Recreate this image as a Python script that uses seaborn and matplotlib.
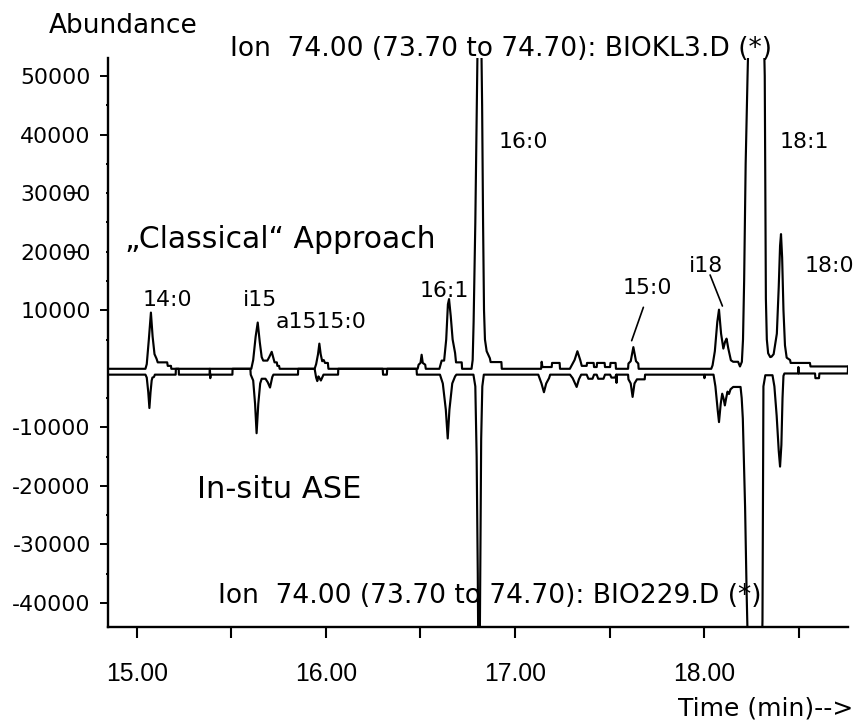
import matplotlib
matplotlib.use("Agg")
import matplotlib.pyplot as plt
import seaborn as sns
import pandas as pd

# ---------------- data ----------------
# upper trace: "Classical" approach, BIOKL3.D  (time [min], abundance)
classical_trace = [
    (14.847, 0), (15.045, 0), (15.052, 800), (15.063, 5000), (15.074, 9600), (15.083, 5500),
    (15.093, 2500), (15.104, 1700), (15.110, 1100), (15.160, 1100), (15.163, 500), (15.180, 500),
    (15.182, 0),
    (15.605, 0), (15.615, 1500), (15.628, 5500), (15.639, 7900), (15.650, 4500), (15.660, 2000),
    (15.668, 1400), (15.690, 1400), (15.700, 2000), (15.713, 2900), (15.722, 1800), (15.728, 1100),
    (15.740, 1100), (15.743, 500), (15.752, 500), (15.755, 0),
    (15.940, 0), (15.948, 800), (15.958, 2500), (15.965, 4300), (15.972, 2500), (15.980, 1300),
    (15.988, 1500), (15.995, 1000), (16.010, 1000), (16.013, 0),
    (16.485, 0), (16.490, 700), (16.500, 1000), (16.506, 2400), (16.512, 1000), (16.525, 700),
    (16.528, 0),
    (16.600, 0), (16.605, 600), (16.612, 1400), (16.625, 1400), (16.636, 5000), (16.645, 11000),
    (16.651, 11900), (16.660, 9000), (16.670, 5000), (16.683, 2700), (16.688, 1100), (16.718, 1100),
    (16.720, 0),
    (16.770, 0), (16.776, 1500), (16.781, 8000), (16.790, 25000), (16.798, 45000), (16.803, 58000),
    (16.821, 58000), (16.826, 45000), (16.831, 25000), (16.836, 10000), (16.841, 5000),
    (16.850, 3000), (16.860, 2300), (16.867, 1800), (16.871, 1150), (16.928, 1150), (16.930, 0),
    (17.138, 0), (17.141, 1200), (17.145, 300), (17.194, 300), (17.196, 1000), (17.236, 1000),
    (17.238, 0), (17.290, 0), (17.300, 600), (17.315, 1500), (17.330, 3000), (17.345, 1500),
    (17.353, 500), (17.379, 500), (17.381, 1000), (17.416, 1000), (17.418, 300), (17.432, 300),
    (17.434, 1000), (17.474, 1000), (17.476, 300), (17.503, 300), (17.505, 1000), (17.532, 1000),
    (17.534, 0),
    (17.598, 0), (17.600, 900), (17.612, 1300), (17.626, 3700), (17.640, 1300), (17.652, 900),
    (17.654, 0),
    (18.038, 0), (18.045, 600), (18.057, 3000), (18.070, 8000), (18.079, 10100), (18.090, 6000),
    (18.102, 3450), (18.111, 4600), (18.119, 5150), (18.128, 3500), (18.142, 1450), (18.154, 1200),
    (18.180, 1200), (18.190, 400), (18.200, 1200), (18.206, 5000), (18.212, 15000), (18.220, 35000),
    (18.230, 50000), (18.236, 58000), (18.316, 58000), (18.321, 50000), (18.324, 30000),
    (18.327, 12000), (18.332, 5000), (18.339, 2650), (18.350, 2000), (18.357, 2070), (18.368, 2500),
    (18.385, 6000), (18.395, 14000), (18.402, 21000), (18.407, 23000), (18.413, 19000),
    (18.420, 10000), (18.428, 4000), (18.437, 1900), (18.455, 1500), (18.458, 1000),
    (18.560, 1000), (18.563, 400), (18.762, 400),
]

# lower (mirrored) trace: "In-situ ASE", BIO229.D  (time [min], plotted abundance)
insitu_trace = [
    (14.847, -1000), (15.045, -1000), (15.052, -1500), (15.060, -4000), (15.066, -6700),
    (15.072, -4000), (15.078, -2000), (15.082, -1500), (15.090, -1400), (15.095, -1000),
    (15.205, -1000), (15.206, 0), (15.221, 0), (15.222, -1000),
    (15.384, -1000), (15.386, 0), (15.388, -1600), (15.390, -1000),
    (15.505, -1000), (15.506, 0), (15.600, 0), (15.602, -1000),
    (15.615, -2000), (15.625, -6000), (15.633, -11000), (15.642, -6000), (15.652, -2500),
    (15.660, -1700), (15.680, -1700), (15.692, -2300), (15.704, -3200), (15.712, -2000),
    (15.716, -1400), (15.722, -1000),
    (15.852, -1000), (15.853, 0), (15.940, 0), (15.948, -1500), (15.954, -2100), (15.960, -1300),
    (15.966, -1600), (15.973, -2000), (15.980, -1500), (15.987, -1000), (16.064, -1000),
    (16.065, 0), (16.300, 0), (16.302, -1000), (16.322, -1000), (16.324, 0), (16.479, 0),
    (16.481, -1000),
    (16.603, -1000), (16.618, -2500), (16.634, -7000), (16.644, -11900), (16.653, -7000),
    (16.668, -2500), (16.683, -1300), (16.690, -1000),
    (16.780, -1000), (16.790, -3000), (16.797, -15000), (16.803, -35000), (16.806, -50000),
    (16.813, -50000), (16.816, -35000), (16.821, -12000), (16.827, -3000), (16.835, -1000),
    (17.123, -1000), (17.140, -2500), (17.153, -4000), (17.165, -2500), (17.180, -1600),
    (17.186, -1000),
    (17.291, -1000), (17.305, -1600), (17.326, -3100), (17.338, -1800), (17.350, -1000),
    (17.379, -1000), (17.388, -1700), (17.410, -1700), (17.418, -1000), (17.432, -1000),
    (17.440, -1700), (17.468, -1700), (17.476, -1000), (17.503, -1000), (17.510, -1500),
    (17.530, -1500), (17.535, -1000), (17.537, -2400), (17.539, -1000),
    (17.598, -1000), (17.600, -1800), (17.612, -2500), (17.622, -4800), (17.632, -2500),
    (17.645, -1800), (17.686, -1800), (17.688, -1000),
    (18.000, -1000), (18.002, -1600), (18.004, -1000),
    (18.050, -1000), (18.060, -3000), (18.072, -7000), (18.079, -9100), (18.088, -6000),
    (18.096, -4250), (18.104, -5200), (18.110, -6250), (18.117, -5000), (18.124, -3900),
    (18.132, -4300), (18.140, -3500), (18.154, -3100), (18.193, -3100), (18.199, -5000),
    (18.205, -8500), (18.217, -23600), (18.225, -38000), (18.232, -48000), (18.306, -48000),
    (18.309, -43000), (18.314, -3000), (18.320, -1900), (18.324, -1100), (18.362, -1100),
    (18.372, -3000), (18.384, -8000), (18.395, -14000), (18.402, -16700), (18.409, -13000),
    (18.415, -5000), (18.420, -1200), (18.425, -800),
    (18.497, -800), (18.499, 300), (18.501, -800), (18.587, -800), (18.589, -1600),
    (18.608, -1600), (18.610, -800), (18.760, -800), (18.762, 400),
]

peak_names = ["14:0", "i15", "a1515:0", "16:1", "16:0", "15:0", "i18", "18:1", "18:0"]
peak_name_time = [15.032, 15.561, 15.735, 16.497, 16.915, 17.570, 17.921, 18.398, 18.534]
peak_name_abund = [10720, 10720, 6960, 12260, 37700, 12720, 16580, 37700, 16580]

# leader lines (label -> peak)
leader_from = [(18.032, 16020), (17.679, 10500)]
leader_to = [(18.097, 10720), (17.617, 4800)]

x_major = [15.0, 16.0, 17.0, 18.0]
x_major_labels = ["15.00", "16.00", "17.00", "18.00"]
x_minor = [15.5, 16.5, 17.5, 18.5]
y_major = [-40000, -30000, -20000, -10000, 10000, 20000, 30000, 40000, 50000]
y_major_labels = ["-40000", "-30000", "-20000", "-10000", "10000", "20000", "30000", "40000", "50000"]
y_minor = [-35000, -25000, -15000, -5000, 5000, 15000, 25000, 35000, 45000]

title_top = "Ion  74.00 (73.70 to 74.70): BIOKL3.D (*)"
title_bottom = "Ion  74.00 (73.70 to 74.70): BIO229.D (*)"

# ---------------- plotting ----------------
sns.set_theme(style="ticks")
plt.rcParams["font.family"] = ["DejaVu Sans"]
plt.rcParams["text.color"] = "black"
plt.rcParams["xtick.color"] = "black"
plt.rcParams["ytick.color"] = "black"
plt.rcParams["axes.edgecolor"] = "black"

fig = plt.figure(figsize=(8.56, 7.21), dpi=100)
ax = fig.add_axes([0.12617, 0.13037, 0.86484, 0.78918])

df_c = pd.DataFrame(classical_trace, columns=["time", "abundance"])
df_i = pd.DataFrame(insitu_trace, columns=["time", "abundance"])
sns.lineplot(data=df_c, x="time", y="abundance", estimator=None, sort=False,
             color="black", linewidth=1.55, ax=ax)
sns.lineplot(data=df_i, x="time", y="abundance", estimator=None, sort=False,
             color="black", linewidth=1.55, ax=ax)

ax.set_xlim(14.847, 18.763)
ax.set_ylim(-44090, 53070)
sns.despine(ax=ax)
ax.set_xlabel("")
ax.set_ylabel("")
for s in ["left", "bottom"]:
    ax.spines[s].set_linewidth(1.7)
    ax.spines[s].set_color("black")

ax.set_xticks(x_major)
ax.set_xticklabels(x_major_labels, fontfamily="Liberation Sans", fontsize=17.8)
ax.set_xticks(x_minor, minor=True)
ax.tick_params(axis="x", which="both", direction="out", length=7.7, width=1.5, pad=17.5)

ax.set_yticks(y_major)
ax.set_yticklabels(y_major_labels, fontsize=15.8)
ax.set_yticks(y_minor, minor=True)
ax.tick_params(axis="y", which="major", direction="out", length=6.0, width=1.4, pad=6.4)
ax.tick_params(axis="y", which="minor", direction="out", length=1.5, width=1.4)
for tk in ax.yaxis.get_major_ticks():
    if tk.get_loc() in (20000, 30000):
        tk.tick1line.set_markersize(1.5)
        ax.plot([-0.0536, -0.0401], [tk.get_loc(), tk.get_loc()],
                transform=ax.get_yaxis_transform(), color="black", lw=1.2, clip_on=False)

# peak labels
for name, t, v in zip(peak_names, peak_name_time, peak_name_abund):
    ax.text(t, v, name, ha="left", va="baseline", fontsize=15.8)
for (t0, v0), (t1, v1) in zip(leader_from, leader_to):
    ax.annotate("", xy=(t1, v1), xytext=(t0, v0),
                arrowprops=dict(arrowstyle="-", color="black", lw=1.2,
                                shrinkA=0, shrinkB=0))

ax.text(14.937, 20630, "\u201eClassical\u201c Approach", ha="left", va="baseline", fontsize=21.5)
ax.text(15.317, -22060, "In-situ ASE", ha="left", va="baseline", fontsize=22)
ax.text(15.492, 53420, title_top, ha="left", va="baseline", fontsize=19.1)
ax.text(15.429, -40000, title_bottom, ha="left", va="baseline", fontsize=19.1)

fig.text(0.0572, 0.9542, "Abundance", ha="left", va="baseline", fontsize=19)
fig.text(0.7924, 0.0083, "Time (min)-->", ha="left", va="baseline", fontsize=18)

fig.savefig("out.png", dpi=100)
